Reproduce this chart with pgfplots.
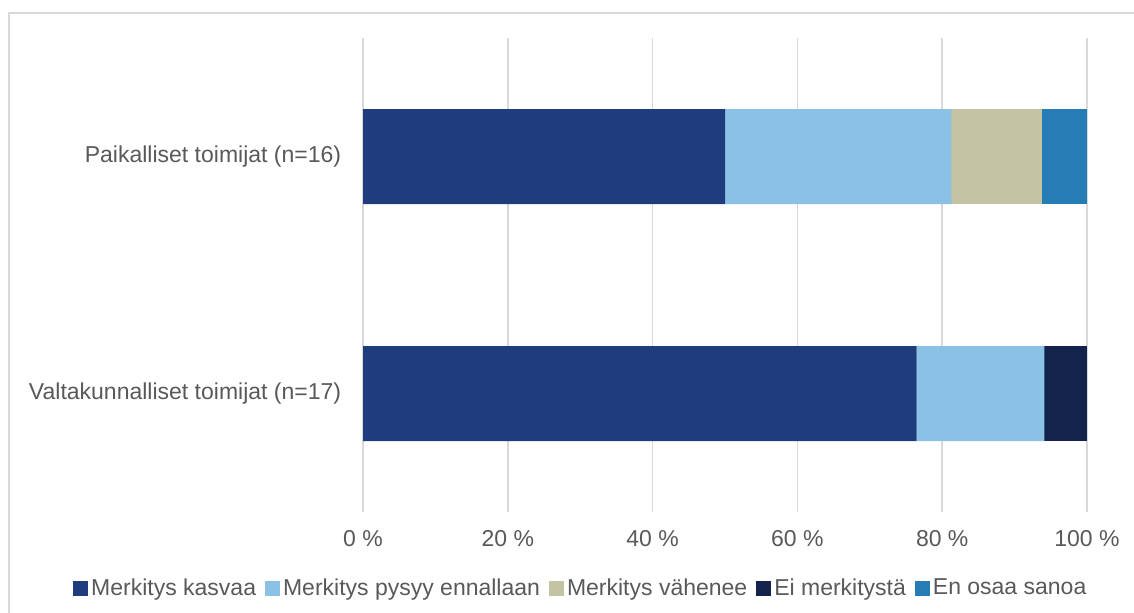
\documentclass[border=0pt]{standalone}
\usepackage{pgfplots}
\pgfplotsset{compat=1.18}
\usepackage{fontspec}
\setmainfont{Liberation Sans}

\definecolor{kasvaa}{RGB}{31,60,125}
\definecolor{pysyy}{RGB}{138,193,228}
\definecolor{vahenee}{RGB}{194,196,163}
\definecolor{eimerk}{RGB}{19,35,75}
\definecolor{eos}{RGB}{38,124,181}
\definecolor{txtgray}{RGB}{89,89,89}
\definecolor{gridgray}{RGB}{217,217,217}

\begin{document}
\begin{tikzpicture}[x=1bp,y=1bp]
\fontsize{23bp}{27bp}\selectfont

% outer frame of the chart area (cut by the image edges on the right and bottom)
\draw[gridgray, line width=2bp] (9,-13) rectangle (1160,-640);

\begin{axis}[
	at={(363bp,-512bp)},
	anchor=south west,
	scale only axis,
	width=724bp, height=474bp,
	xbar stacked,
	bar width=95bp,
	xmin=0, xmax=100,
	ymin=0, ymax=2,
	y dir=reverse,
	axis line style={draw=none},
	major tick length=0pt,
	/pgf/number format/assume math mode=true,
	xtick={0,20,40,60,80,100},
	xticklabel={\pgfmathprintnumber{\tick}~\%},
	xmajorgrids,
	grid style={gridgray, line width=1.5bp},
	ytick={0.5,1.5},
	yticklabels={Paikalliset toimijat (n=16), Valtakunnalliset toimijat (n=17)},
	tick label style={font=\fontsize{23bp}{27bp}\selectfont, text=txtgray},
	xticklabel style={yshift=-11bp},
	yticklabel style={xshift=-14bp},
	legend columns=-1,
	legend style={
		at={(0.3015,-0.162)}, anchor=center,
		draw=none, fill=none,
		font=\fontsize{23bp}{27bp}\selectfont, text=txtgray,
		/tikz/every even column/.append style={column sep=6bp},
		nodes={inner xsep=3bp, inner ysep=1bp},
	},
	legend image code/.code={\fill[#1] (0bp,-7bp) rectangle (15bp,8bp);},
	every axis plot/.append style={draw=none},
]
\addplot[fill=kasvaa] coordinates {(50,0.5) (76.47,1.5)};
\addlegendentry{Merkitys kasvaa}
\addplot[fill=pysyy] coordinates {(31.25,0.5) (17.65,1.5)};
\addlegendentry{Merkitys pysyy ennallaan}
\addplot[fill=vahenee] coordinates {(12.5,0.5) (0,1.5)};
\addlegendentry{Merkitys vähenee}
\addplot[fill=eimerk] coordinates {(0,0.5) (5.88,1.5)};
\addlegendentry{Ei merkitystä}
\addplot[fill=eos] coordinates {(6.25,0.5) (0,1.5)};
\addlegendentry{En osaa sanoa}
\end{axis}

\pgfresetboundingbox
\useasboundingbox (0,0) rectangle (1134,-613);
\end{tikzpicture}
\end{document}
